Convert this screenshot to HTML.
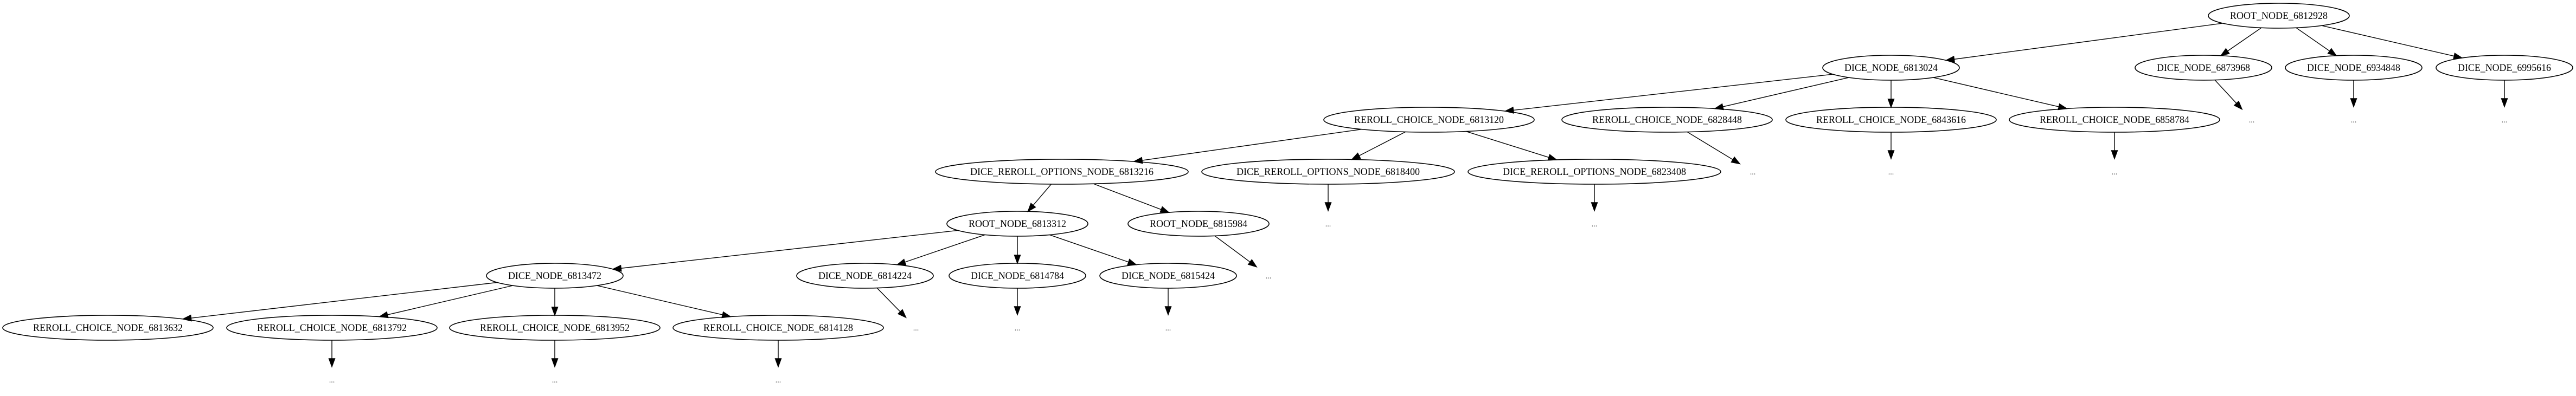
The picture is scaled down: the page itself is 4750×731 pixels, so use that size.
<!DOCTYPE html>
<html><head><meta charset="utf-8"><style>
html,body{margin:0;padding:0;background:#fff;}
svg{display:block;}
text{font-family:"Liberation Serif",serif;font-size:19px;fill:#000;}
.d{font-size:14px;fill:#333;}
</style></head><body>
<svg id="g" width="4750" height="731" viewBox="0 0 4750 731" xmlns="http://www.w3.org/2000/svg">
<g id="edges" stroke="#000" stroke-width="1.4" fill="#000"></g>
<g fill="none" stroke="#000" stroke-width="1.6">
<ellipse cx="4202" cy="29" rx="130" ry="23"/>
<ellipse cx="3487" cy="125" rx="126" ry="23"/>
<ellipse cx="4063" cy="125" rx="126" ry="23"/>
<ellipse cx="4340" cy="125" rx="126" ry="23"/>
<ellipse cx="4618" cy="125" rx="126" ry="23"/>
<ellipse cx="2635" cy="221" rx="194" ry="23"/>
<ellipse cx="3074" cy="221" rx="194" ry="23"/>
<ellipse cx="3487" cy="221" rx="194" ry="23"/>
<ellipse cx="3899" cy="221" rx="194" ry="23"/>
<ellipse cx="1958" cy="317" rx="233" ry="23"/>
<ellipse cx="2449" cy="317" rx="233" ry="23"/>
<ellipse cx="2940" cy="317" rx="233" ry="23"/>
<ellipse cx="1876" cy="413" rx="130" ry="23"/>
<ellipse cx="2210" cy="413" rx="130" ry="23"/>
<ellipse cx="1023" cy="509" rx="126" ry="23"/>
<ellipse cx="1595" cy="509" rx="126" ry="23"/>
<ellipse cx="1876" cy="509" rx="126" ry="23"/>
<ellipse cx="2154" cy="509" rx="126" ry="23"/>
<ellipse cx="199" cy="605" rx="194" ry="23"/>
<ellipse cx="612" cy="605" rx="194" ry="23"/>
<ellipse cx="1023" cy="605" rx="194" ry="23"/>
<ellipse cx="1435" cy="605" rx="194" ry="23"/>
</g>
<g text-anchor="middle" lengthAdjust="spacingAndGlyphs">
<text x="4202" y="35" textLength="180" lengthAdjust="spacingAndGlyphs">ROOT_NODE_6812928</text>
<text x="3487" y="131" textLength="172" lengthAdjust="spacingAndGlyphs">DICE_NODE_6813024</text>
<text x="4063" y="131" textLength="172" lengthAdjust="spacingAndGlyphs">DICE_NODE_6873968</text>
<text x="4340" y="131" textLength="172" lengthAdjust="spacingAndGlyphs">DICE_NODE_6934848</text>
<text x="4618" y="131" textLength="172" lengthAdjust="spacingAndGlyphs">DICE_NODE_6995616</text>
<text x="2635" y="227" textLength="276" lengthAdjust="spacingAndGlyphs">REROLL_CHOICE_NODE_6813120</text>
<text x="3074" y="227" textLength="276" lengthAdjust="spacingAndGlyphs">REROLL_CHOICE_NODE_6828448</text>
<text x="3487" y="227" textLength="276" lengthAdjust="spacingAndGlyphs">REROLL_CHOICE_NODE_6843616</text>
<text x="3899" y="227" textLength="276" lengthAdjust="spacingAndGlyphs">REROLL_CHOICE_NODE_6858784</text>
<text x="1958" y="323" textLength="338" lengthAdjust="spacingAndGlyphs">DICE_REROLL_OPTIONS_NODE_6813216</text>
<text x="2449" y="323" textLength="338" lengthAdjust="spacingAndGlyphs">DICE_REROLL_OPTIONS_NODE_6818400</text>
<text x="2940" y="323" textLength="338" lengthAdjust="spacingAndGlyphs">DICE_REROLL_OPTIONS_NODE_6823408</text>
<text x="1876" y="419" textLength="180" lengthAdjust="spacingAndGlyphs">ROOT_NODE_6813312</text>
<text x="2210" y="419" textLength="180" lengthAdjust="spacingAndGlyphs">ROOT_NODE_6815984</text>
<text x="1023" y="515" textLength="172" lengthAdjust="spacingAndGlyphs">DICE_NODE_6813472</text>
<text x="1595" y="515" textLength="172" lengthAdjust="spacingAndGlyphs">DICE_NODE_6814224</text>
<text x="1876" y="515" textLength="172" lengthAdjust="spacingAndGlyphs">DICE_NODE_6814784</text>
<text x="2154" y="515" textLength="172" lengthAdjust="spacingAndGlyphs">DICE_NODE_6815424</text>
<text x="199" y="611" textLength="276" lengthAdjust="spacingAndGlyphs">REROLL_CHOICE_NODE_6813632</text>
<text x="612" y="611" textLength="276" lengthAdjust="spacingAndGlyphs">REROLL_CHOICE_NODE_6813792</text>
<text x="1023" y="611" textLength="276" lengthAdjust="spacingAndGlyphs">REROLL_CHOICE_NODE_6813952</text>
<text x="1435" y="611" textLength="276" lengthAdjust="spacingAndGlyphs">REROLL_CHOICE_NODE_6814128</text>
</g>
<g text-anchor="middle">
<text class="d" x="4152" y="226">...</text>
<text class="d" x="4340" y="226">...</text>
<text class="d" x="4618" y="226">...</text>
<text class="d" x="3232" y="322">...</text>
<text class="d" x="3487" y="322">...</text>
<text class="d" x="3899" y="322">...</text>
<text class="d" x="2449" y="418">...</text>
<text class="d" x="2940" y="418">...</text>
<text class="d" x="2339" y="514">...</text>
<text class="d" x="1689" y="610">...</text>
<text class="d" x="1876" y="610">...</text>
<text class="d" x="2154" y="610">...</text>
<text class="d" x="612" y="706">...</text>
<text class="d" x="1023" y="706">...</text>
<text class="d" x="1435" y="706">...</text>
</g>
</svg>
<script>
(function(){
var E=[
[4202,29,130,4,3487,125,126,23],[4202,29,130,4,4063,125,126,23],[4202,29,130,4,4340,125,126,23],[4202,29,130,4,4618,125,126,23],
[4063,125,126,0,4152,221,30,24],[4340,125,126,0,4340,221,30,24],[4618,125,126,0,4618,221,30,24],
[3487,125,126,0,2635,221,194,23],[3487,125,126,0,3074,221,194,23],[3487,125,126,0,3487,221,194,23],[3487,125,126,0,3899,221,194,23],
[3074,221,194,0,3232,317,30,24],[3487,221,194,0,3487,317,30,24],[3899,221,194,0,3899,317,30,24],
[2635,221,194,0,1958,317,233,23],[2635,221,194,0,2449,317,233,23],[2635,221,194,0,2940,317,233,23],
[2449,317,233,0,2449,413,30,24],[2940,317,233,0,2940,413,30,24],
[1958,317,233,0,1876,413,130,23],[1958,317,233,0,2210,413,130,23],
[2210,413,130,0,2339,509,30,24],
[1876,413,130,0,1023,509,126,23],[1876,413,130,0,1595,509,126,23],[1876,413,130,0,1876,509,126,23],[1876,413,130,0,2154,509,126,23],
[1595,509,126,0,1689,605,30,24],[1876,509,126,0,1876,605,30,24],[2154,509,126,0,2154,605,30,24],
[1023,509,126,0,199,605,194,23],[1023,509,126,0,612,605,194,23],[1023,509,126,0,1023,605,194,23],[1023,509,126,0,1435,605,194,23],
[612,605,194,0,612,701,30,24],[1023,605,194,0,1023,701,30,24],[1435,605,194,0,1435,701,30,24]
];
var g=document.getElementById('edges'),ns='http://www.w3.org/2000/svg',h='';
E.forEach(function(e){
var x1=e[0],y1=e[1],rx1=e[2],x2=e[4],y2=e[5],rx2=e[6],ry2=e[7];
var dx=x2-x1,dy=y2-y1;
var t1=1/Math.sqrt(dx*dx/(rx1*rx1)+dy*dy/(23*23));
var t2=1/Math.sqrt(dx*dx/(rx2*rx2)+dy*dy/(ry2*ry2));
var sx=x1+dx*t1,sy=y1+dy*t1,ex=x2-dx*t2,ey=y2-dy*t2;
var L=Math.hypot(ex-sx,ey-sy),ux=(ex-sx)/L,uy=(ey-sy)/L;
var bx=ex-ux*15,by=ey-uy*15,px=-uy*5.5,py=ux*5.5;
h+='<line x1="'+sx+'" y1="'+sy+'" x2="'+bx+'" y2="'+by+'"/>';
h+='<polygon points="'+ex+','+ey+' '+(bx+px)+','+(by+py)+' '+(bx-px)+','+(by-py)+'"/>';
});
g.innerHTML=h;
})();
</script>
</body></html>
